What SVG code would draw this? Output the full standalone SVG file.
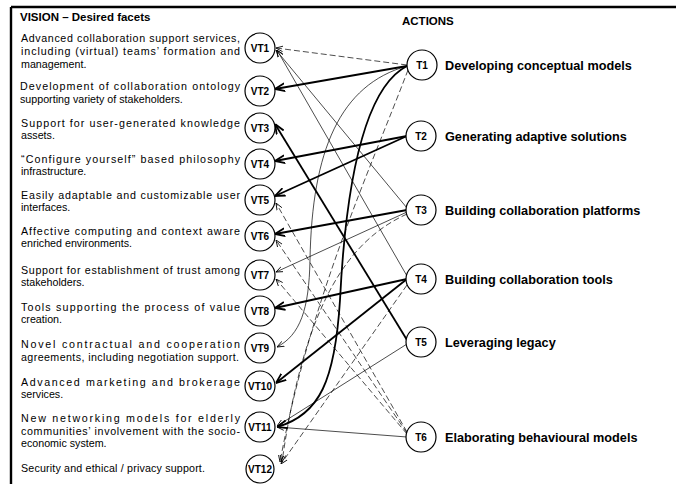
<svg xmlns="http://www.w3.org/2000/svg" width="676" height="484" viewBox="0 0 676 484">
<style>
text{font-family:"Liberation Sans",Arial,sans-serif;fill:#000}
.d{font-size:10.7px}
.h{font-size:11.5px;font-weight:bold}
.n circle{fill:#fff;stroke:#000;stroke-width:1.2}
.n text{font-size:10px;font-weight:bold;text-anchor:middle}
.n text.lbl{font-size:12.7px;font-weight:bold;text-anchor:start}
.c path{fill:none;stroke:#000}
.c .k{stroke-width:1.8;marker-end:url(#ak)}
.c .t{stroke-width:0.7;marker-end:url(#at)}
.c .s{stroke-width:0.7;stroke-dasharray:6 3;marker-end:url(#at)}
</style>
<defs>
<marker id="ak" viewBox="0 0 10 10" refX="10" refY="5" markerWidth="10" markerHeight="10" markerUnits="userSpaceOnUse" orient="auto"><path d="M0,1 L10,5 L0,9" fill="none" stroke="#000" stroke-width="1.8"/></marker>
<marker id="at" viewBox="0 0 10 10" refX="10" refY="5" markerWidth="7" markerHeight="7" markerUnits="userSpaceOnUse" orient="auto"><path d="M0,1 L10,5 L0,9" fill="none" stroke="#000" stroke-width="1.2"/></marker>
</defs>
<g id="frame" fill="none" stroke="#000" stroke-width="2.4"><path d="M11,7 H676 M11,7 V484"/></g>
<text class="h" x="20" y="21">VISION – Desired facets</text>
<text class="h" x="402" y="25">ACTIONS</text>
<g id="descriptions" class="d">
<text x="21" y="42" textLength="219" lengthAdjust="spacing">Advanced collaboration support services,</text>
<text x="21" y="55" textLength="219" lengthAdjust="spacing">including (virtual) teams’ formation and</text>
<text x="21" y="67.5">management.</text>
<text x="20" y="90" textLength="220" lengthAdjust="spacing">Development of collaboration ontology</text>
<text x="20" y="102.5">supporting variety of stakeholders.</text>
<text x="21" y="126.5" textLength="219" lengthAdjust="spacing">Support for user-generated knowledge</text>
<text x="21" y="139">assets.</text>
<text x="21" y="162.5" textLength="219" lengthAdjust="spacing">“Configure yourself” based philosophy</text>
<text x="21" y="175">infrastructure.</text>
<text x="21" y="198.5" textLength="219" lengthAdjust="spacing">Easily adaptable and customizable user</text>
<text x="21" y="211">interfaces.</text>
<text x="21" y="234.5" textLength="219" lengthAdjust="spacing">Affective computing and context aware</text>
<text x="21" y="247">enriched environments.</text>
<text x="21" y="273.5" textLength="219" lengthAdjust="spacing">Support for establishment of trust among</text>
<text x="21" y="286">stakeholders.</text>
<text x="21" y="310.5" textLength="219" lengthAdjust="spacing">Tools supporting the process of value</text>
<text x="21" y="323">creation.</text>
<text x="21" y="348" textLength="219" lengthAdjust="spacing">Novel contractual and cooperation</text>
<text x="21" y="360.5" textLength="218" lengthAdjust="spacing">agreements, including negotiation support.</text>
<text x="21" y="385.5" textLength="219" lengthAdjust="spacing">Advanced marketing and brokerage</text>
<text x="21" y="398">services.</text>
<text x="21" y="422" textLength="219" lengthAdjust="spacing">New networking models for elderly</text>
<text x="21" y="434.5" textLength="219" lengthAdjust="spacing">communities’ involvement with the socio-</text>
<text x="21" y="447">economic system.</text>
<text x="21" y="472" textLength="184" lengthAdjust="spacing">Security and ethical / privacy support.</text>
</g>
<g id="connectors" class="c">
<path class="s" d="M407,65 L276,48"/>
<path class="k" d="M407,66 L275,89"/>
<path class="t" d="M407,66 C340,85 312,150 310,260 C309,310 300,335 277,347"/>
<path class="k" d="M407,66 C360,90 345,200 340,300 C335,380 320,415 277,427"/>
<path class="s" d="M408,70 C370,170 310,300 280,462"/>
<path class="k" d="M407,136 L275,161"/>
<path class="k" d="M407,136 L275,196"/>
<path class="t" d="M407,208 L276,50"/>
<path class="k" d="M407,210 L275,234"/>
<path class="t" d="M407,212 L276,272"/>
<path class="s" d="M407,214 C350,240 305,300 282,462"/>
<path class="t" d="M407,276 L277,50"/>
<path class="k" d="M407,279 L275,308"/>
<path class="k" d="M407,279 L276,383"/>
<path class="s" d="M407,285 L281,464"/>
<path class="k" d="M407,340 L275,124"/>
<path class="t" d="M407,344 L277,426"/>
<path class="t" d="M407,437 L277,427"/>
<path class="s" d="M407,432 L276,203"/>
<path class="s" d="M407,433 L276,240"/>
<path class="s" d="M407,434 L276,279"/>
</g>
<g id="VT1" class="n"><circle cx="260" cy="48" r="15"/><text x="260" y="51.5">VT1</text></g>
<g id="VT2" class="n"><circle cx="260" cy="91" r="15"/><text x="260" y="94.5">VT2</text></g>
<g id="VT3" class="n"><circle cx="260" cy="128" r="15"/><text x="260" y="131.5">VT3</text></g>
<g id="VT4" class="n"><circle cx="260" cy="164" r="15"/><text x="260" y="167.5">VT4</text></g>
<g id="VT5" class="n"><circle cx="260" cy="200" r="15"/><text x="260" y="203.5">VT5</text></g>
<g id="VT6" class="n"><circle cx="260" cy="236" r="15"/><text x="260" y="239.5">VT6</text></g>
<g id="VT7" class="n"><circle cx="260" cy="275" r="15"/><text x="260" y="278.5">VT7</text></g>
<g id="VT8" class="n"><circle cx="260" cy="311" r="15"/><text x="260" y="314.5">VT8</text></g>
<g id="VT9" class="n"><circle cx="260" cy="348" r="15"/><text x="260" y="351.5">VT9</text></g>
<g id="VT10" class="n"><circle cx="260" cy="386" r="15"/><text x="260" y="389.5">VT10</text></g>
<g id="VT11" class="n"><circle cx="260" cy="427" r="15"/><text x="260" y="430.5">VT11</text></g>
<g id="VT12" class="n"><circle cx="260" cy="469" r="14"/><text x="260" y="472.5">VT12</text></g>
<g id="T1" class="n"><circle cx="422" cy="65" r="15"/><text x="422" y="68.5">T1</text><text class="lbl" x="445" y="70">Developing conceptual models</text></g>
<g id="T2" class="n"><circle cx="421" cy="136" r="15"/><text x="421" y="139.5">T2</text><text class="lbl" x="445" y="141">Generating adaptive solutions</text></g>
<g id="T3" class="n"><circle cx="421" cy="210" r="15"/><text x="421" y="213.5">T3</text><text class="lbl" x="445" y="215">Building collaboration platforms</text></g>
<g id="T4" class="n"><circle cx="421" cy="279" r="15"/><text x="421" y="282.5">T4</text><text class="lbl" x="445" y="284">Building collaboration tools</text></g>
<g id="T5" class="n"><circle cx="421" cy="342" r="15"/><text x="421" y="345.5">T5</text><text class="lbl" x="445" y="347">Leveraging legacy</text></g>
<g id="T6" class="n"><circle cx="421" cy="437" r="15"/><text x="421" y="440.5">T6</text><text class="lbl" x="445" y="442">Elaborating behavioural models</text></g>
</svg>
